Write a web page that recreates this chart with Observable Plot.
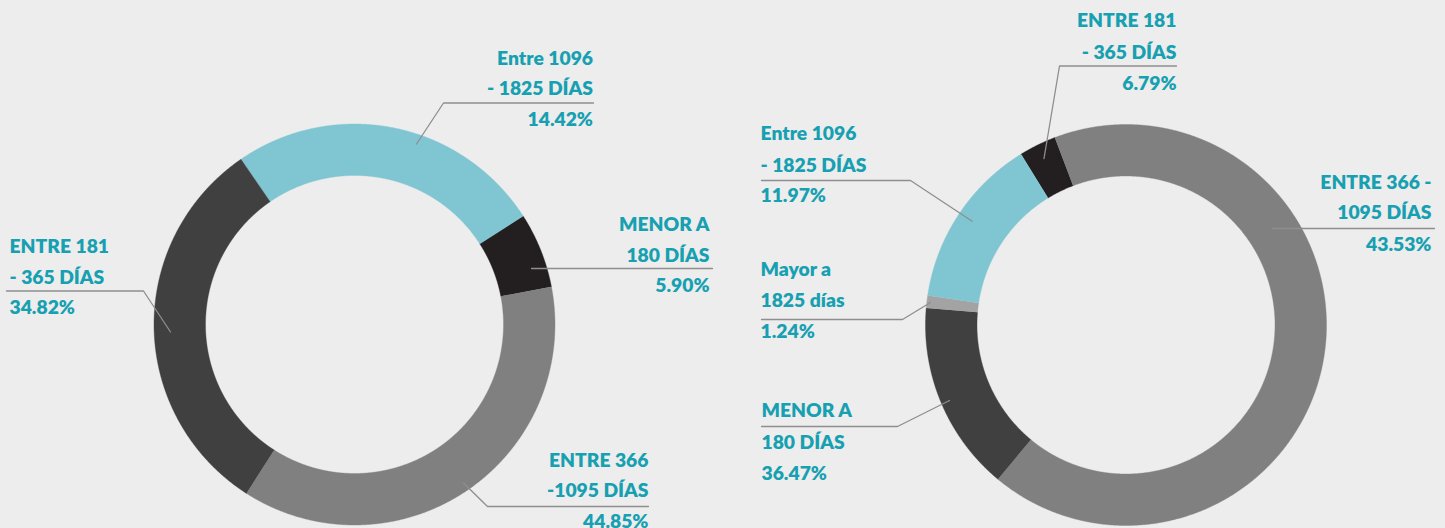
<!DOCTYPE html>
<html>
<head>
<meta charset="utf-8">
<script src="https://cdn.jsdelivr.net/npm/d3@7"></script>
<script src="https://cdn.jsdelivr.net/npm/@observablehq/plot@0.6"></script>
<style>
  html, body { margin: 0; padding: 0; background: #ededed; }
  #chart svg { display: block; }
</style>
</head>
<body>
<div id="chart"></div>
<script>
// ---------- DATA ----------
// Left donut, slices in clockwise drawing order (arc shares as drawn)
const leftCategories = ["Entre 1096 - 1825 días", "Menor a 180 días", "Entre 366 - 1095 días", "Entre 181 - 365 días"];
const leftShares     = [25.5, 6.06, 37.08, 31.36];
const leftColors     = ["#80c6d2", "#231f20", "#808080", "#404040"];
const leftLabels = [
  ["Entre 1096", "- 1825 DÍAS", "14.42%"],
  ["MENOR A", "180 DÍAS", "5.90%"],
  ["ENTRE 366", "-1095 DÍAS", "44.85%"],
  ["ENTRE 181", "- 365 DÍAS", "34.82%"]
];

// Right donut, slices in clockwise drawing order
const rightCategories = ["Entre 181 - 365 días", "Entre 366 - 1095 días", "Menor a 180 días", "Mayor a 1825 días", "Entre 1096 - 1825 días"];
const rightShares     = [3.0, 66.8, 15.33, 1.0, 13.87];
const rightColors     = ["#231f20", "#808080", "#404040", "#a3a3a3", "#80c6d2"];
const rightLabels = [
  ["ENTRE 181", "- 365 DÍAS", "6.79%"],
  ["ENTRE 366 -", "1095 DÍAS", "43.53%"],
  ["MENOR A", "180 DÍAS", "36.47%"],
  ["Mayor a", "1825 días", "1.24%"],
  ["Entre 1096", "- 1825 DÍAS", "11.97%"]
];

// ---------- LAYOUT ----------
const W = 1445, H = 528;
const R_OUT = 200.5, R_IN = 149;
const donuts = [
  {cx: 354, cy: 324, start: -34.5, cats: leftCategories, shares: leftShares, colors: leftColors, labels: leftLabels,
   notes: [
     {anchor: "end",   x: 592.5, base: [64, 94.5, 125],   uy: 102.5, ux1: 593, ux2: 443, end: [416, 143.5]},
     {anchor: "end",   x: 709,   base: [230, 261.5, 291.5], uy: 268, ux1: 712, ux2: 531, end: null},
     {anchor: "end",   x: 648,   base: [466.5, 496.5, 527], uy: 506, ux1: 648, ux2: 487, end: [463, 482.5]},
     {anchor: "start", x: 9,     base: [252, 283, 313],   uy: 290.5, ux1: 6, ux2: 143, end: [170, 331.5]}
   ]},
  {cx: 1125.5, cy: 324.5, start: -31.6, cats: rightCategories, shares: rightShares, colors: rightColors, labels: rightLabels,
   notes: [
     {anchor: "end",   x: 1176,  base: [26.5, 58, 89],    uy: 65.5, ux1: 1176, ux2: 1059, end: [1043.5, 158]},
     {anchor: "end",   x: 1431,  base: [188, 218.5, 250], uy: 228, ux1: 1434, ux2: 1272, end: null},
     {anchor: "start", x: 761,   base: [416.5, 448, 479], uy: 426, ux1: 761, ux2: 897, end: [949, 400]},
     {anchor: "start", x: 760,   base: [275.5, 306.5, 337], uy: 319, ux1: 761, ux2: 902, end: [930, 302]},
     {anchor: "start", x: 760,   base: [139.5, 171.5, 201], uy: 180, ux1: 761, ux2: 910, end: [971.7, 220.7]}
   ]}
];

// ---------- BUILD ROWS ----------
const rad = Math.PI / 180;
const slicePts = [];
const textRows = [];
const leaderPts = [];
donuts.forEach((d, di) => {
  const total = d3.sum(d.shares);
  let a = d.start;
  d.shares.forEach((s, i) => {
    const span = s / total * 360;
    const a0 = a, a1 = a + span;
    const id = `${di}-${i}`;
    const n = Math.max(2, Math.ceil(span / 0.25));
    const pts = [];
    for (let k = 0; k <= n; k++) {
      const t = (a0 + (a1 - a0) * k / n) * rad;
      pts.push({id, color: d.colors[i], x: d.cx + R_OUT * Math.sin(t), y: d.cy - R_OUT * Math.cos(t)});
    }
    for (let k = n; k >= 0; k--) {
      const t = (a0 + (a1 - a0) * k / n) * rad;
      pts.push({id, color: d.colors[i], x: d.cx + R_IN * Math.sin(t), y: d.cy - R_IN * Math.cos(t)});
    }
    slicePts.push(...pts);
    a = a1;

    const note = d.notes[i];
    d.labels[i].forEach((line, li) => {
      textRows.push({x: note.x, y: note.base[li], text: line, anchor: note.anchor});
    });
    const lid = `L${di}-${i}`;
    leaderPts.push({id: lid, x: note.ux1, y: note.uy});
    leaderPts.push({id: lid, x: note.ux2, y: note.uy});
    if (note.end) leaderPts.push({id: lid, x: note.end[0], y: note.end[1]});
  });
});

const textMark = (anchor) => Plot.text(textRows.filter(r => r.anchor === anchor), {
  x: "x", y: "y", text: "text", textAnchor: anchor, lineAnchor: "bottom",
  fontSize: 19.3, fontWeight: 800, fill: "#16a0b1"
});

const chart = Plot.plot({
  width: W, height: H, margin: 0,
  x: {domain: [0, W], range: [0, W], axis: null},
  y: {domain: [0, H], range: [0, H], axis: null},
  color: {type: "identity"},
  style: {background: "#ededed", fontFamily: "Lato, 'Open Sans', sans-serif"},
  marks: [
    Plot.line(slicePts, {x: "x", y: "y", z: "id", fill: "color", stroke: "color", strokeWidth: 0.4, curve: "linear"}),
    Plot.line(leaderPts, {x: "x", y: "y", z: "id", stroke: "#8e8e8e", strokeWidth: 1.3}),
    textMark("start"),
    textMark("end")
  ]
});
document.getElementById("chart").appendChild(chart);
</script>
</body>
</html>
